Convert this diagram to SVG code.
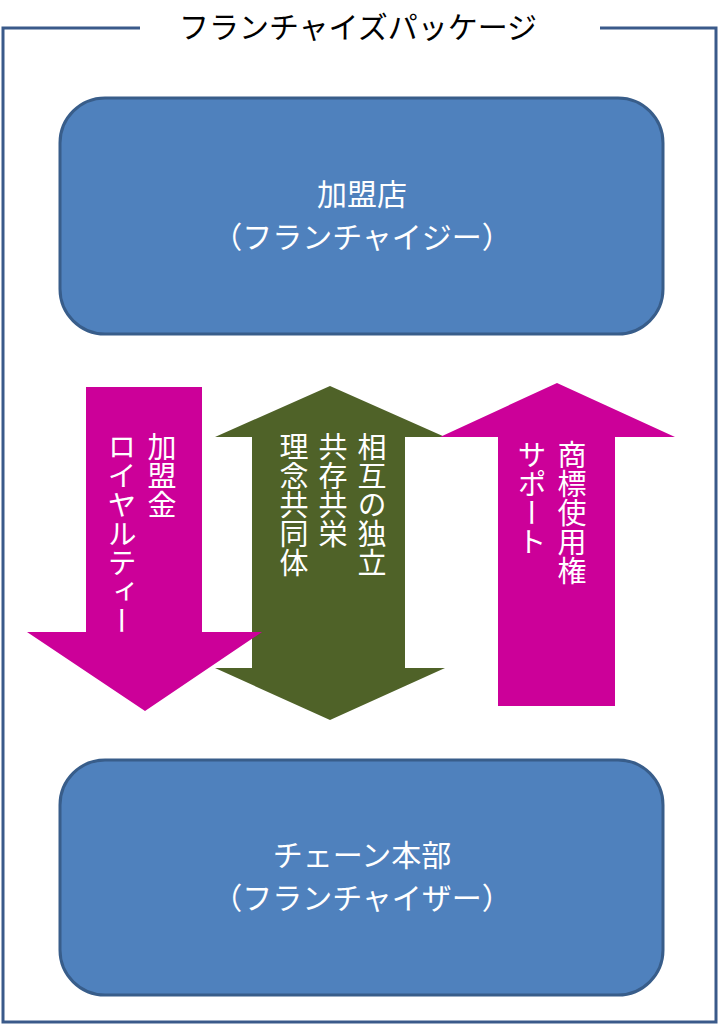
<svg xmlns="http://www.w3.org/2000/svg" width="719" height="1025" viewBox="0 0 719 1025">
<style>
.box{fill:#4f81bd;stroke:#385d8a;stroke-width:3}
.t{font-family:"Noto Sans CJK JP",sans-serif;font-size:30px;fill:#fff;text-anchor:middle}
.v{font-family:"Noto Sans CJK JP",sans-serif;font-size:29px;fill:#fff;writing-mode:vertical-rl}
.mag{fill:#cc0099}
.olv{fill:#4f6228}
</style>
<rect width="719" height="1025" fill="#fff"/>
<path d="M140,28 H3 V1022 H716 V28 H600" fill="none" stroke="#3a5a8a" stroke-width="3"/>
<text x="358" y="38" font-family="Noto Sans CJK JP,sans-serif" font-size="30" text-anchor="middle" fill="#000">フランチャイズパッケージ</text>
<g id="franchisee">
<rect class="box" x="60" y="98" width="603" height="236" rx="45"/>
<text class="t" x="362" y="205">加盟店</text>
<text class="t" x="362" y="248">（フランチャイジー）</text>
</g>
<g id="franchisor">
<rect class="box" x="60" y="760" width="603" height="235" rx="45"/>
<text class="t" x="362" y="866">チェーン本部</text>
<text class="t" x="362" y="909">（フランチャイザー）</text>
</g>
<g id="connectors">
<g id="mutual">
<polygon class="olv" points="330,386 445,437 405,437 405,668 445,668 330,720 215,668 252,668 252,437 215,437"/>
<text class="v" x="372" y="432">相互の独立</text>
<text class="v" x="333" y="432">共存共栄</text>
<text class="v" x="294" y="432">理念共同体</text>
</g>
<g id="royalty">
<polygon class="mag" points="86,387 202,387 202,632 262,632 145,711 27,632 86,632"/>
<text class="v" x="162" y="432">加盟金</text>
<text class="v" x="122" y="432">ロイヤルティー</text>
</g>
<g id="support">
<polygon class="mag" points="557,383 675,437 615,437 615,706 498,706 498,437 440,437"/>
<text class="v" x="572" y="440">商標使用権</text>
<text class="v" x="532" y="440">サポート</text>
</g>
</g>
</svg>
